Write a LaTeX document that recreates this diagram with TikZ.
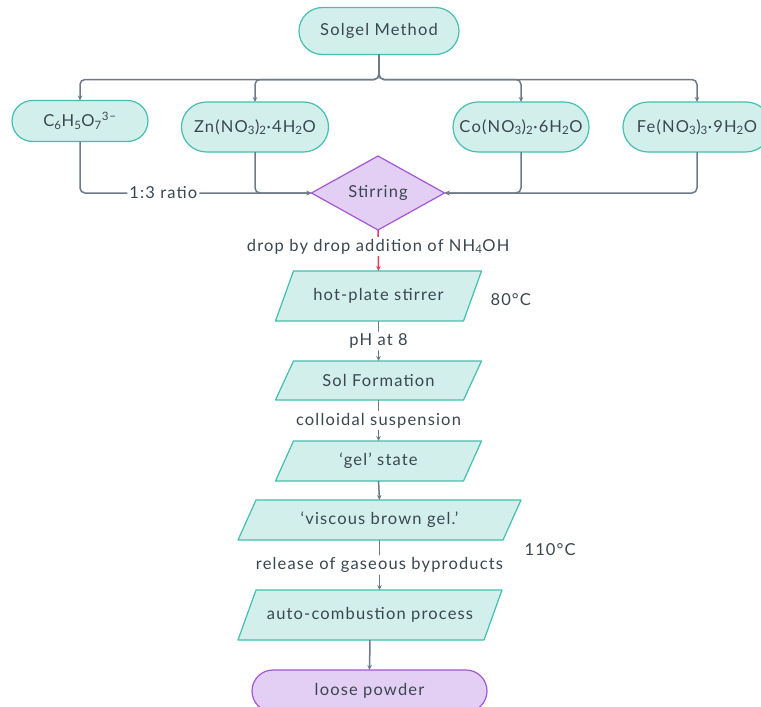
\documentclass[tikz,border=0pt]{standalone}
\usepackage{fontspec}
\setmainfont{Lato}[LetterSpace=7]
\usetikzlibrary{shapes.geometric,shapes.misc,arrows.meta,backgrounds}
\definecolor{tealfill}{HTML}{D2EFEC}
\definecolor{tealline}{HTML}{45BFAF}
\definecolor{purfill}{HTML}{E3CFF3}
\definecolor{purline}{HTML}{A455D6}
\definecolor{conncol}{HTML}{6E7A88}
\definecolor{txt}{HTML}{3A4750}
\definecolor{redcol}{HTML}{D9435E}
\tikzset{
  pill/.style={rounded rectangle, draw=tealline, fill=tealfill, line width=1.2pt, inner sep=0pt, outer sep=0pt},
  purpill/.style={rounded rectangle, draw=purline, fill=purfill, line width=1.2pt, inner sep=0pt, outer sep=0pt},
  dia/.style={diamond, draw=purline, fill=purfill, line width=1.2pt, inner sep=0pt, outer sep=0pt, aspect=1.8},
  parabox/.style={rectangle, inner sep=0pt, outer sep=0pt},
  parashape/.style={draw=tealline, fill=tealfill, line width=1.2pt, line join=round},
  conn/.style={draw=conncol, line width=1.5pt, rounded corners=5pt, -{Stealth[length=5pt,width=4.5pt]}},
  redconn/.style={draw=redcol, line width=1.5pt, -{Stealth[length=5pt,width=4.5pt]}},
  lbl/.style={fill=white, inner sep=2pt, text=txt}
}
\begin{document}
\begin{tikzpicture}[x=1pt,y=-1pt, font=\fontsize{16.5}{19}\selectfont, text=txt]
\useasboundingbox (0,0) rectangle (761,707);
\clip (0,0) rectangle (761,707);
% top
\node[pill, minimum width=160, minimum height=47] (sg) at (379,31) {Solgel Method};
\node[pill, minimum width=136, minimum height=41] (c6) at (80,121) {C\textsubscript{6}H\textsubscript{5}O\textsubscript{7}\textsuperscript{3−}};
\node[pill, minimum width=147, minimum height=50] (zn) at (255,127) {Zn(NO\textsubscript{3})\textsubscript{2}·4H\textsubscript{2}O};
\node[pill, minimum width=136, minimum height=50] (co) at (521,127) {Co(NO\textsubscript{3})\textsubscript{2}·6H\textsubscript{2}O};
\node[pill, minimum width=148, minimum height=50] (fe) at (697,127) {Fe(NO\textsubscript{3})\textsubscript{3}·9H\textsubscript{2}O};
\node[dia, minimum width=133, minimum height=74] (st) at (378,193) {Stirring};
% process
\node[parabox, minimum width=188, minimum height=50] (hp) at (378.5,296) {hot-plate stirrer};
\node[parabox, minimum width=188, minimum height=39] (sol) at (378.5,380.5) {Sol Formation};
\node[parabox, minimum width=188, minimum height=40] (gel) at (378.5,461) {‘gel’ state};
\node[parabox, minimum width=265, minimum height=40] (visc) at (379.5,520) {‘viscous brown gel.’};
\node[parabox, minimum width=246, minimum height=50] (auto) at (370,615) {auto-combustion process};
\node[purpill, minimum width=235, minimum height=42] (loose) at (369.5,691) {loose powder};
\begin{scope}[on background layer]
\foreach \n in {hp,sol,gel,visc,auto}
  \draw[parashape] ([xshift=-9pt]\n.south west) -- ([xshift=9pt]\n.north west) -- ([xshift=9pt]\n.north east) -- ([xshift=-9pt]\n.south east) -- cycle;
\end{scope}
\node[anchor=west] (t80) at (487,300) {80°C};
\node[anchor=west] (t110) at (521,550) {110°C};
% branch connectors
\draw[conn] (sg.south) -- ++(0,25) -| (c6.north);
\draw[conn] (sg.south) -- ++(0,25) -| (zn.north);
\draw[conn] (sg.south) -- ++(0,25) -| (co.north);
\draw[conn] (sg.south) -- ++(0,25) -| (fe.north);
% into stirring
\draw[conn] (c6.south) |- node[lbl, pos=0.68] {1:3 ratio} (st.west);
\draw[conn] (zn.south) |- (st.west);
\draw[conn] (co.south) |- (st.east);
\draw[conn] (fe.south) |- (st.east);
% vertical chain
\draw[redconn] (st.south) -- node[lbl, pos=0.4] {drop by drop addition of NH\textsubscript{4}OH} (hp.north);
\draw[conn] (hp.south) -- node[lbl] {pH at 8} (sol.north);
\draw[conn] (sol.south) -- node[lbl] {colloidal suspension} (gel.north);
\draw[conn] (gel.south) -- (visc.north);
\draw[conn] (visc.south) -- node[lbl] {release of gaseous byproducts} (visc.south |- auto.north);
\draw[conn] (auto.south) -- (loose.north);
\end{tikzpicture}
\end{document}
